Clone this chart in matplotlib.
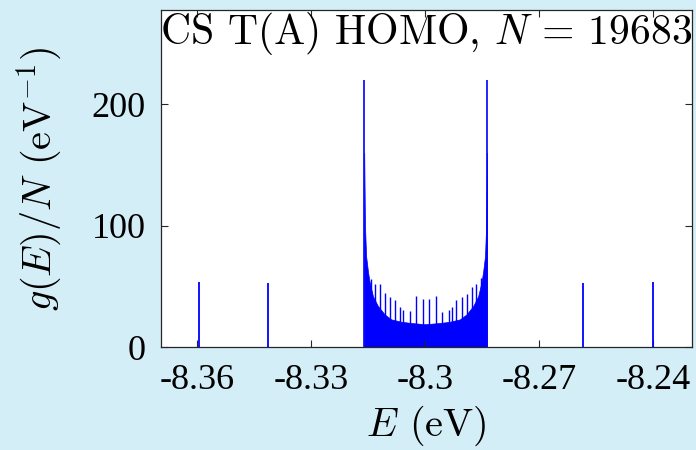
import numpy as np
import matplotlib.pyplot as plt

plt.rcParams['font.family'] = 'cmr10'
plt.rcParams['mathtext.fontset'] = 'cm'
plt.rcParams['axes.unicode_minus'] = False

# isolated side peaks
side_E = [-8.3595, -8.3413, -8.2585, -8.2401]
side_g = [54, 53, 53, 54]

# band edges (van Hove peaks)
edge_E = [-8.3160, -8.2837]
edge_g = [220, 220]

# solid lower envelope of the band
floor_E = [-8.3160, -8.3158, -8.3155, -8.3150, -8.3146, -8.3137, -8.3124, -8.3106,
           -8.3089, -8.3062, -8.3036, -8.3000, -8.2961, -8.2935, -8.2908, -8.2891,
           -8.2873, -8.2860, -8.2851, -8.2847, -8.2842, -8.2839, -8.2837]
floor_g = [160, 100, 75, 62, 54, 42, 34, 27, 23, 21, 20, 19, 20, 21, 23, 27,
           34, 42, 54, 62, 75, 100, 160]

# spikes sticking out of the band
spike_E = [-8.3141, -8.3131, -8.3119, -8.3106, -8.3093, -8.3078, -8.3067, -8.3058,
           -8.3040, -8.3023, -8.3006, -8.2989, -8.2970, -8.2954, -8.2937, -8.2928,
           -8.2918, -8.2902, -8.2889, -8.2876, -8.2865, -8.2853]
spike_g = [56, 52, 52, 45, 41, 39, 33, 31, 30, 42, 40, 40, 42, 29, 31, 33,
           39, 41, 44, 50, 52, 57]

xticks = [-8.36, -8.33, -8.30, -8.27, -8.24]
xticklabels = ['-8.36', '-8.33', '-8.3', '-8.27', '-8.24']
yticks = [0, 100, 200]
yticklabels = ['0', '100', '200']

blue = '#0000ff'
tick_font = 'Liberation Serif'

fig = plt.figure(figsize=(6.96, 4.5), dpi=100, facecolor='#d4eef8')
ax = fig.add_axes([0.2313, 0.2282, 0.7630, 0.7485])
ax.set_facecolor('white')

ax.fill_between(floor_E, 0, floor_g, color=blue, lw=0.5)
ax.vlines(spike_E, 0, spike_g, color=blue, lw=1.0)
ax.vlines(edge_E, 0, edge_g, color=blue, lw=1.2)
ax.vlines(side_E, 0, side_g, color=blue, lw=1.3)

ax.set_xlim(-8.3695, -8.2297)
ax.set_ylim(0, 277)
ax.set_xticks(xticks)
ax.set_xticklabels(xticklabels, fontfamily=tick_font)
ax.set_yticks(yticks)
ax.set_yticklabels(yticklabels, fontfamily=tick_font)
ax.tick_params(direction='in', length=5, width=0.8, color='#262626',
               labelsize=26, top=True, right=True)
ax.tick_params(axis='x', pad=12)
ax.tick_params(axis='y', pad=11)
for s in ax.spines.values():
    s.set_color('#262626')
    s.set_linewidth(0.9)

ax.text(0.5, 0.9005, r'CS T(A) HOMO, $N$ = 19683', transform=ax.transAxes,
        ha='center', va='baseline', fontsize=30)
ax.set_xlabel(r'$E$ (eV)', fontsize=29, labelpad=5)
ax.set_ylabel(r'$g(E)/N$ (eV$^{-1}$)', fontsize=29, labelpad=20)

fig.savefig('out.png', dpi=100, facecolor=fig.get_facecolor())
